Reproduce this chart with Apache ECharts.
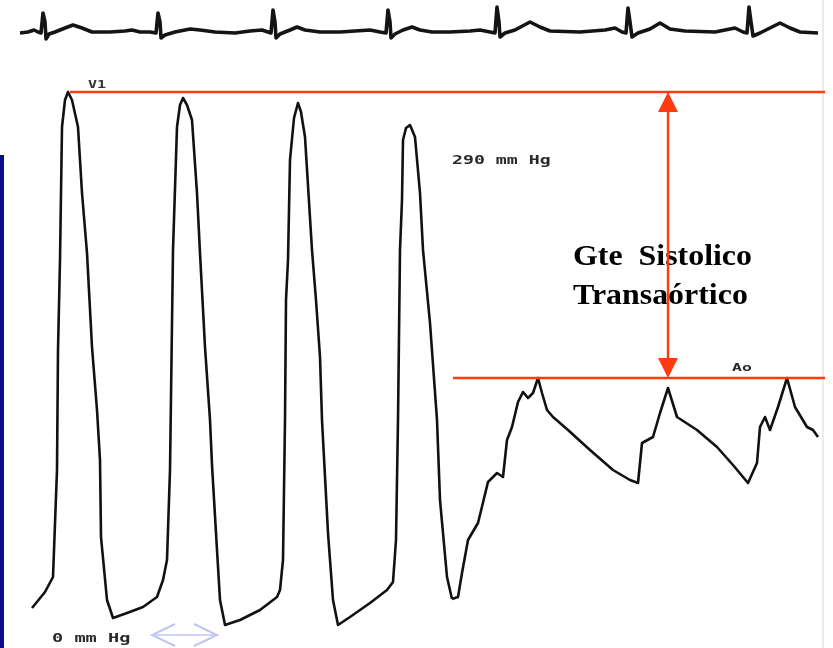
<!DOCTYPE html>
<html>
<head>
<meta charset="utf-8">
<script src="https://cdn.jsdelivr.net/npm/echarts@6/dist/echarts.min.js"></script>
<style>
  html, body { margin: 0; padding: 0; background: #ffffff; }
  #chart { width: 833px; height: 648px; }
</style>
</head>
<body>
<div id="chart"></div>
<script>
// Time in ms, pressure in mmHg (left ventricle then aorta, pullback tracing)
const pressureTime = [
  160, 225, 265, 285, 290, 300, 310, 325, 340, 360, 390, 410, 435, 460, 485, 500, 505, 535, 565, 635, 715, 785, 815,
  835, 850, 865, 885, 900, 915, 935, 960, 985, 1000, 1025, 1050, 1060, 1085, 1100, 1125, 1200, 1300, 1385, 1400,
  1415, 1425, 1430, 1440, 1450, 1470, 1490, 1505, 1525, 1560, 1580, 1600, 1610, 1640, 1665, 1690, 1750, 1850, 1935, 1965,
  1980, 1990, 2000, 2010, 2015, 2030, 2050, 2075, 2100, 2115, 2150, 2185, 2200, 2235, 2260
];
const pressureLV = [
  11, 19, 26.5, 80, 140, 185, 251.5, 265, 269, 265, 251.5, 218.5, 188.5, 141.5, 110, 85, 46.5, 15, 6, 8.5, 11.5, 16.5, 25,
  35, 80, 190, 251.5, 262.5, 266, 262.5, 255, 218.5, 188.5, 141.5, 105, 82.5, 40, 15, 2.5, 5, 10, 16.5, 20,
  35, 105, 165, 185, 235, 256, 263.5, 259, 246.5, 190, 165, 136.5, 105, 48.5, 15, 2.5, 6.5, 13.5, 20, 24,
  45, 105, 190, 215, 245, 251, 252.5, 246.5, 218.5, 190, 153.5, 105, 65, 26.5, 15.5
];
// Aortic trace starts from the last ventricular trough
const aorticTime = [
  2260, 2290, 2310, 2340, 2390, 2440, 2485, 2515, 2535, 2560, 2590, 2615, 2640, 2665, 2690, 2710, 2735, 2765, 2840, 2950,
  3065, 3150, 3190, 3210, 3265, 3300, 3340, 3385, 3485, 3585, 3665, 3740, 3785, 3800, 3825, 3850, 3890, 3935,
  3975, 4035, 4065, 4090
];
const pressureAo = [
  15.5, 16.5, 28.5, 45, 53.5, 74, 78.5, 76.5, 95, 101.5, 114, 119, 116, 118.5, 126, 118.5, 110, 106.5, 100, 90,
  80, 75, 73.5, 93.5, 96.5, 108.5, 121, 106.5, 100, 91.5, 82.5, 73.5, 83.5, 101.5, 106.5, 100, 111.5, 126,
  111.5, 101.5, 100, 96.5
];

// ECG lead, time in ms, amplitude in mV
const ecgTime = [
  100, 140, 170, 190, 205, 215, 225, 230, 245, 275, 325, 365, 410, 460, 550, 625, 660, 700, 750,
  780, 790, 800, 805, 825, 875, 950, 1000, 1075, 1175, 1250, 1310, 1340,
  1355, 1365, 1375, 1380, 1400, 1450, 1485, 1525, 1600, 1700, 1775, 1850, 1900,
  1930, 1940, 1950, 1955, 1975, 2015, 2060, 2100, 2160, 2250, 2350, 2400, 2450,
  2475, 2485, 2495, 2500, 2525, 2575, 2650, 2700, 2750, 2900, 3025, 3075, 3110,
  3130, 3140, 3150, 3160, 3190, 3250, 3300, 3350, 3425, 3575, 3675, 3715,
  3735, 3745, 3755, 3765, 3800, 3850, 3900, 3950, 4000, 4090
];
const ecgMv = [
  -0.05, 0, 0.1, 0, -0.05, 0.95, 0.5, -0.35, -0.1, 0, 0.2, 0.35, 0.2, 0, 0, 0.05, 0.1, 0, 0,
  -0.05, 0.95, 0.5, -0.3, -0.15, 0, 0.15, 0.1, 0, -0.05, 0.05, 0.1, 0,
  -0.05, 1.1, 0.5, -0.3, -0.1, 0.1, 0.25, 0.1, 0, 0, 0.05, 0.1, 0,
  -0.05, 1.1, 0.5, -0.3, -0.1, 0.1, 0.25, 0.1, 0, 0, 0.05, 0.1, 0,
  -0.05, 1.25, 0.5, -0.25, -0.05, 0.1, 0.5, 0.25, 0.05, 0, 0.1, 0.2, 0,
  -0.05, 1.2, 0.5, -0.25, -0.05, 0.15, 0.45, 0.15, 0.05, 0, 0.2, 0,
  -0.05, 1.25, 0.5, -0.2, -0.05, 0.2, 0.45, 0.2, 0, -0.05
];

const zip = (xs, ys) => xs.map((x, i) => [x, ys[i]]);
const lvData = zip(pressureTime, pressureLV);
const aoData = zip(aorticTime, pressureAo);
const ecgData = zip(ecgTime, ecgMv);

// Systolic peaks used for the gradient markers
const lvPeak = Math.max(...pressureLV);
const aoPeak = Math.max(...pressureAo);
const markerTime = 3340;
const red = '#ff3a10';

const chart = echarts.init(document.getElementById('chart'), null, { renderer: 'canvas' });

const trace = { color: '#111111', width: 2.6, join: 'round' };

chart.setOption({
  animation: false,
  backgroundColor: '#ffffff',
  grid: { left: 0, right: 0, top: 0, bottom: 0 },
  xAxis: { type: 'value', min: 0, max: 4165, show: false },
  yAxis: [
    { type: 'value', min: -9, max: 315, show: false },
    { type: 'value', min: -30.8, max: 1.6, show: false }
  ],
  series: [
    {
      name: 'ECG', type: 'line', yAxisIndex: 1, data: ecgData,
      showSymbol: false, lineStyle: { color: '#141414', width: 3.6, join: 'round' }
    },
    {
      name: 'VI', type: 'line', yAxisIndex: 0, data: lvData,
      showSymbol: false, lineStyle: trace,
      markLine: {
        silent: true, symbol: 'none', animation: false,
        label: { show: false },
        lineStyle: { color: red, width: 2.4, type: 'solid' },
        data: [
          [{ coord: [350, lvPeak] }, { coord: [4125, lvPeak] }],
          [{ coord: [2265, aoPeak] }, { coord: [4125, aoPeak] }],
          [
            { coord: [markerTime, lvPeak - 5], symbol: 'triangle', symbolSize: [20, 20] },
            { coord: [markerTime, aoPeak + 5], symbol: 'triangle', symbolSize: [20, 20] }
          ]
        ]
      }
    },
    {
      name: 'Ao', type: 'line', yAxisIndex: 0, data: aoData,
      showSymbol: false, lineStyle: trace
    }
  ],
  graphic: [
    { type: 'rect', shape: { x: 0, y: 155, width: 4, height: 493 }, style: { fill: '#0b0b8c' } },
    { type: 'line', shape: { x1: 823, y1: 0, x2: 823, y2: 648 }, style: { stroke: '#d8d8d8', lineWidth: 1 } },
    {
      type: 'text', x: 88, y: 85, scaleX: 1.5,
      style: { text: 'V1', font: 'bold 10px "DejaVu Sans Mono"', fill: '#333', verticalAlign: 'middle' }
    },
    {
      type: 'text', x: 452, y: 161, scaleX: 1.4,
      style: { text: '290 mm Hg', font: 'bold 13px "DejaVu Sans Mono"', fill: '#2a2a2a', verticalAlign: 'middle' }
    },
    {
      type: 'text', x: 732, y: 368, scaleX: 1.5,
      style: { text: 'Ao', font: 'bold 11px "DejaVu Sans Mono"', fill: '#2a2a2a', verticalAlign: 'middle' }
    },
    {
      type: 'text', x: 52, y: 639, scaleX: 1.55,
      style: { text: '0 mm Hg', font: 'bold 12px "DejaVu Sans Mono"', fill: '#2a2a2a', verticalAlign: 'middle' }
    },
    {
      type: 'text', x: 573, y: 243, scaleX: 1.1,
      style: { text: 'Gte  Sistolico', font: 'bold 29px "Liberation Serif"', fill: '#000', verticalAlign: 'alphabetic' }
    },
    {
      type: 'text', x: 573, y: 282, scaleX: 1.1,
      style: { text: 'Transaórtico', font: 'bold 29px "Liberation Serif"', fill: '#000', verticalAlign: 'alphabetic' }
    },
    // light double-headed arrow under the baseline
    { type: 'polyline', shape: { points: [[152, 635], [217, 635]] }, style: { stroke: '#c4c4f4', lineWidth: 1.5, fill: null } },
    { type: 'polyline', shape: { points: [[175, 624], [152, 635], [175, 646]] }, style: { stroke: '#c4c4f4', lineWidth: 2, fill: null } },
    { type: 'polyline', shape: { points: [[194, 624], [217, 635], [194, 646]] }, style: { stroke: '#c4c4f4', lineWidth: 2, fill: null } }
  ]
});
</script>
</body>
</html>
